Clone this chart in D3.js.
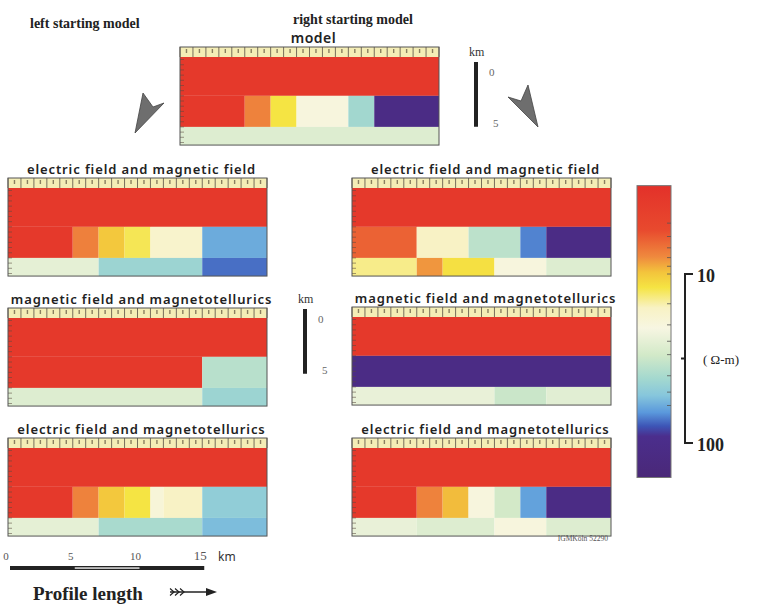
<!DOCTYPE html>
<html>
<head>
<meta charset="utf-8">
<script src="https://cdn.jsdelivr.net/npm/d3@7"></script>
<style>
  body { margin: 0; background: #fff; }
  svg { display: block; }
</style>
</head>
<body>
<svg width="760" height="605"></svg>
<script>
// layer boundaries (km depth) and profile length (km)
const layerDepths = [0, 3, 5.4, 6.8];
const profileKm = 20;

// resistivity segments per layer: [fromKm, toKm, ohm-m]
const allConductive = [[0, 20, 3.6]];

const modelMid = [[0, 5, 3.6], [5, 7, 7.6], [7, 9, 12], [9, 13, 20], [13, 15, 42], [15, 20, 112]];
const modelBot = [[0, 20, 27]];

const leftEmMid = [[0, 5, 3.6], [5, 7, 7.5], [7, 9, 10], [9, 11, 12.5], [11, 15, 17], [15, 20, 60]];
const leftEmBot = [[0, 7, 25], [7, 15, 44], [15, 20, 74]];

const leftMmtMid = [[0, 15, 3.6], [15, 20, 36]];
const leftMmtBot = [[0, 15, 27], [15, 20, 44]];

const leftEmtMid = [[0, 5, 3.6], [5, 7, 7.6], [7, 9, 10], [9, 11, 12], [11, 12, 19], [12, 15, 16], [15, 20, 48]];
const leftEmtBot = [[0, 7, 25], [7, 15, 40], [15, 20, 55]];

const rightEmMid = [[0, 5, 6.3], [5, 9, 16], [9, 13, 35], [13, 15, 70], [15, 20, 112]];
const rightEmBot = [[0, 5, 14], [5, 7, 8.3], [7, 11, 11.7], [11, 15, 20], [15, 20, 27]];

const rightMmtMid = [[0, 20, 112]];
const rightMmtBot = [[0, 11, 24], [11, 15, 32], [15, 20, 26]];

const rightEmtMid = [[0, 5, 3.6], [5, 7, 7.6], [7, 9, 9.5], [9, 11, 20], [11, 13, 30], [13, 15, 63], [15, 20, 112]];
const rightEmtBot = [[0, 5, 24], [5, 11, 27], [11, 15, 20], [15, 20, 27]];

const panelTitles = [
  "model",
  "electric field and magnetic field",
  "electric field and magnetic field",
  "magnetic field and magnetotellurics",
  "magnetic field and magnetotellurics",
  "electric field and magnetotellurics",
  "electric field and magnetotellurics"
];
const panelLayers = [
  [allConductive, modelMid, modelBot],
  [allConductive, leftEmMid, leftEmBot],
  [allConductive, rightEmMid, rightEmBot],
  [allConductive, leftMmtMid, leftMmtBot],
  [allConductive, rightMmtMid, rightMmtBot],
  [allConductive, leftEmtMid, leftEmtBot],
  [allConductive, rightEmtMid, rightEmtBot]
];

// colour scale (log10 of ohm-m)
const colorLog = [0.47, 0.74, 0.9, 0.99, 1.08, 1.2, 1.32, 1.48, 1.62, 1.72, 1.82, 1.9, 1.96, 2.2];
const colorHex = ["#e3312a", "#e84a2e", "#ef8a3e", "#f3c43c", "#f5e443", "#f8f2c4", "#f7f6e2",
  "#d2e9c8", "#a3d8cf", "#86c6dc", "#5a98dc", "#3d55b6", "#4b2e8d", "#4a2878"];
const barRange = [3, 160];
const barTicks = [10, 100];

const svg = d3.select("svg");
const color = d3.scaleLinear().domain(colorLog).range(colorHex).clamp(true);
const fill = v => color(Math.log10(v));

// layout
const pxPerKm = 12.95;
const panelW = profileKm * pxPerKm;
const bandH = 10;
const panelPos = [[180, 47], [8, 178], [352, 178], [8, 308], [352, 307], [8, 438], [352, 438]];

panelLayers.forEach((layers, i) => {
  const [px, py] = panelPos[i];
  const x = d3.scaleLinear().domain([0, profileKm]).range([px, px + panelW]);
  const y = d3.scaleLinear().domain([0, layerDepths[3]]).range([py + bandH, py + bandH + layerDepths[3] * pxPerKm]);
  const g = svg.append("g");

  g.append("text")
    .attr("x", px + panelW / 2 + 4)
    .attr("y", py - 4)
    .attr("text-anchor", "middle")
    .attr("font-family", "Noto Sans, sans-serif")
    .attr("font-weight", 600)
    .attr("font-size", i === 0 ? 14 : 13)
    .attr("letter-spacing", i === 0 ? 0.5 : 0.9)
    .attr("fill", "#222")
    .text(panelTitles[i]);

  layers.forEach((segs, li) => {
    g.selectAll(null)
      .data(segs)
      .join("rect")
      .attr("x", d => x(d[0]))
      .attr("y", y(layerDepths[li]))
      .attr("width", d => x(d[1]) - x(d[0]))
      .attr("height", y(layerDepths[li + 1]) - y(layerDepths[li]))
      .attr("fill", d => fill(d[2]));
  });

  // top tick band
  g.append("rect")
    .attr("x", px).attr("y", py)
    .attr("width", panelW).attr("height", bandH)
    .attr("fill", "#f4edb6");
  g.selectAll(null)
    .data(d3.range(0, profileKm + 1))
    .join("line")
    .attr("x1", d => x(d)).attr("x2", d => x(d))
    .attr("y1", py).attr("y2", py + bandH)
    .attr("stroke", "#6a6050").attr("stroke-width", 0.9);
  g.selectAll(null)
    .data(d3.range(0.5, profileKm, 1))
    .join("line")
    .attr("x1", d => x(d)).attr("x2", d => x(d))
    .attr("y1", py + 2).attr("y2", py + 6)
    .attr("stroke", "#8a7f60").attr("stroke-width", 1.4);

  // depth ticks on left edge
  g.selectAll(null)
    .data(d3.range(0.2, layerDepths[3], 0.4))
    .join("line")
    .attr("x1", px).attr("x2", px + 4)
    .attr("y1", d => y(d)).attr("y2", d => y(d))
    .attr("stroke", "#5a4a40").attr("stroke-width", 0.8).attr("opacity", 0.7);

  g.append("rect")
    .attr("x", px).attr("y", py)
    .attr("width", panelW).attr("height", y(layerDepths[3]) - py)
    .attr("fill", "none").attr("stroke", "#555").attr("stroke-width", 1);
});

// depth scale bars (5 km)
function depthBar(bx, by) {
  svg.append("rect").attr("x", bx - 2).attr("y", by).attr("width", 4).attr("height", 5 * pxPerKm).attr("fill", "#222");
  svg.append("text").attr("x", bx - 7).attr("y", by - 6).attr("font-family", "Liberation Serif, serif").attr("font-size", 12).attr("fill", "#333").text("km");
  svg.append("text").attr("x", bx + 13).attr("y", by + 14).attr("font-family", "Liberation Serif, serif").attr("font-size", 11).attr("fill", "#666").text("0");
  svg.append("text").attr("x", bx + 17).attr("y", by + 5 * pxPerKm).attr("font-family", "Liberation Serif, serif").attr("font-size", 11).attr("fill", "#666").text("5");
}
depthBar(476, 62);
depthBar(305, 309);

// profile scale bar
const sx = d3.scaleLinear().domain([0, 15]).range([10, 10 + 15 * pxPerKm]);
svg.append("rect").attr("x", sx(0)).attr("y", 566).attr("width", sx(15) - sx(0)).attr("height", 4).attr("fill", "#222");
svg.append("rect").attr("x", sx(5)).attr("y", 567.4).attr("width", sx(10) - sx(5)).attr("height", 1.3).attr("fill", "#fff");
svg.selectAll(null)
  .data([0, 5, 10, 15])
  .join("text")
  .attr("x", d => sx(d) - 4)
  .attr("y", 560)
  .attr("text-anchor", "middle")
  .attr("font-family", "Liberation Serif, serif")
  .attr("font-size", d => d === 15 ? 13 : 11)
  .attr("fill", "#555")
  .text(d => d);
svg.append("text").attr("x", 218).attr("y", 561).attr("font-family", "Noto Sans, sans-serif").attr("font-size", 12).attr("fill", "#333").text("km");

svg.append("text").attr("x", 33).attr("y", 600)
  .attr("font-family", "Liberation Serif, serif").attr("font-weight", "bold").attr("font-size", 19)
  .attr("fill", "#222").text("Profile length");
// feathered arrow
const ay = 592;
svg.append("line").attr("x1", 170).attr("x2", 208).attr("y1", ay).attr("y2", ay).attr("stroke", "#222").attr("stroke-width", 1.6);
svg.append("path").attr("d", `M206,${ay - 4}L217,${ay}L206,${ay + 4}Z`).attr("fill", "#222");
svg.selectAll(null).data([170, 175, 180]).join("path")
  .attr("d", d => `M${d},${ay - 3.5}L${d + 4},${ay}L${d},${ay + 3.5}`)
  .attr("fill", "none").attr("stroke", "#222").attr("stroke-width", 1.2);

// top labels
svg.append("text").attr("x", 30).attr("y", 28).attr("font-family", "Liberation Serif, serif").attr("font-weight", "bold").attr("font-size", 14).attr("fill", "#222").text("left starting model");
svg.append("text").attr("x", 293).attr("y", 24).attr("font-family", "Liberation Serif, serif").attr("font-weight", "bold").attr("font-size", 14).attr("fill", "#222").text("right starting model");

// arrows from model
svg.append("path").attr("d", "M135,133L143,93L153,107L164,103Z").attr("fill", "#6e6e6e").attr("stroke", "#444").attr("stroke-width", 0.8);
svg.append("path").attr("d", "M538,127L508,97L521,101L528,85Z").attr("fill", "#6e6e6e").attr("stroke", "#444").attr("stroke-width", 0.8);

// colour bar
const by = d3.scaleLog().domain(barTicks).range([274, 443]);
const barX = 637, barW = 34;
const defs = svg.append("defs");
const grad = defs.append("linearGradient").attr("id", "cbar").attr("x1", 0).attr("x2", 0).attr("y1", 0).attr("y2", 1);
const y0 = by(barRange[0]), y1 = by(barRange[1]);
grad.selectAll("stop")
  .data(colorLog)
  .join("stop")
  .attr("offset", d => (by(10 ** d) - y0) / (y1 - y0))
  .attr("stop-color", d => color(d));
svg.append("rect").attr("x", barX).attr("y", y0).attr("width", barW).attr("height", y1 - y0)
  .attr("fill", "url(#cbar)").attr("stroke", "#777").attr("stroke-width", 1);
svg.selectAll(null)
  .data([5, 6, 7, 8, 9, 10, 15, 20, 25, 30, 40, 50, 60])
  .join("line")
  .attr("x1", barX + barW - 4).attr("x2", barX + barW)
  .attr("y1", d => by(d)).attr("y2", d => by(d))
  .attr("stroke", "#555").attr("stroke-width", 0.8);

// bracket
const bx = 685;
svg.append("path")
  .attr("d", `M${bx + 8},${by(10)}H${bx}V${by(100)}H${bx + 8}M${bx - 4},${by(Math.sqrt(1000))}H${bx}`)
  .attr("fill", "none").attr("stroke", "#222").attr("stroke-width", 2);
svg.selectAll(null)
  .data(barTicks)
  .join("text")
  .attr("x", 697)
  .attr("y", d => by(d) + 8)
  .attr("font-family", "Liberation Serif, serif").attr("font-weight", "bold").attr("font-size", 18)
  .attr("fill", "#222")
  .text(d => d);
svg.append("text").attr("x", 703).attr("y", by(Math.sqrt(1000)) + 5)
  .attr("font-family", "Liberation Serif, serif").attr("font-size", 13).attr("fill", "#222").text("( Ω-m)");

svg.append("text").attr("x", 608).attr("y", 541).attr("text-anchor", "end")
  .attr("font-family", "Liberation Serif, serif").attr("font-size", 7.5).attr("fill", "#555").text("IGMKöln 52290");
</script>
</body>
</html>
